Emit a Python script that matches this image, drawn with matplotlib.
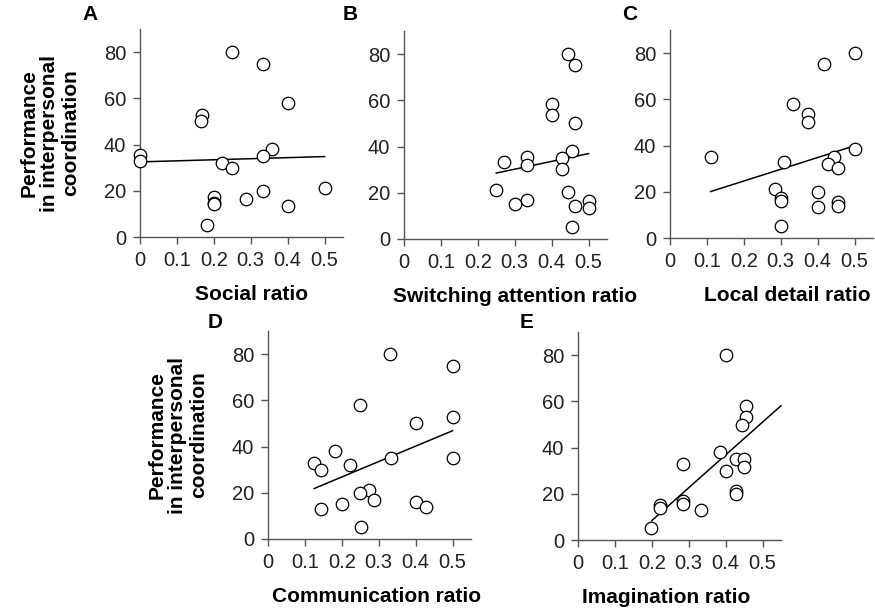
import matplotlib
matplotlib.use('Agg')
import matplotlib.pyplot as plt

plt.rcParams['font.family'] = ['Liberation Sans', 'DejaVu Sans']

# performance in interpersonal coordination vs AQ sub-scale ratios
social_x = [0, 0, 0.25, 0.333, 0.40, 0.167, 0.165, 0.357, 0.333, 0.222, 0.25,
            0.5, 0.333, 0.2, 0.2, 0.2, 0.286, 0.4, 0.182]
social_y = [35.5, 33, 80, 75, 58, 53, 50, 38, 35, 32, 30,
            21, 20, 17.4, 14.7, 14.2, 16.4, 13.2, 5.2]

switch_x = [0.444, 0.462, 0.40, 0.40, 0.462, 0.455, 0.428, 0.333, 0.333, 0.272,
            0.428, 0.25, 0.444, 0.333, 0.30, 0.462, 0.5, 0.5, 0.455]
switch_y = [80, 75.2, 58.4, 53.5, 50, 38.2, 35.2, 35.5, 32.2, 33.2,
            30.5, 21.3, 20.2, 17, 15.3, 14.2, 16.5, 13.3, 5.2]

local_x = [0.5, 0.417, 0.332, 0.375, 0.375, 0.5, 0.11, 0.444, 0.308, 0.427,
           0.454, 0.285, 0.40, 0.30, 0.30, 0.454, 0.454, 0.40, 0.30]
local_y = [80, 75.3, 58, 53.5, 50.2, 38.3, 35.1, 35.1, 33.1, 32.1,
           30.4, 21.2, 20.1, 17.2, 16.2, 15.5, 14, 13.2, 5]

comm_x = [0.33, 0.5, 0.249, 0.5, 0.40, 0.181, 0.5, 0.333, 0.124, 0.144,
          0.221, 0.274, 0.249, 0.286, 0.20, 0.40, 0.429, 0.144, 0.251]
comm_y = [80, 74.8, 57.9, 52.7, 50, 38, 35, 35, 32.7, 29.9,
          32.1, 21, 20, 16.9, 15.2, 16.2, 14, 13, 5.2]

imag_x = [0.40, 0.456, 0.454, 0.445, 0.384, 0.428, 0.449, 0.449, 0.40, 0.285,
          0.428, 0.428, 0.221, 0.221, 0.285, 0.285, 0.332, 0.198]
imag_y = [80, 58, 53.1, 49.9, 37.9, 35.1, 35.1, 31.7, 30, 32.8,
          21, 19.9, 15.2, 14, 16.7, 15.5, 12.8, 5]

# regression lines
fit_slope = [4.6, 33.7, 50.8, 66.7, 142]
fit_intercept = [32.5, 20.1, 14.5, 13.5, -20.0]
fit_from = [0, 0.25, 0.11, 0.125, 0.2]
fit_to = [0.5, 0.5, 0.5, 0.5, 0.55]

letters = ['A', 'B', 'C', 'D', 'E']
xlabels = ['Social ratio', 'Switching attention ratio', 'Local detail ratio',
           'Communication ratio', 'Imagination ratio']
xs = [social_x, switch_x, local_x, comm_x, imag_x]
ys = [social_y, switch_y, local_y, comm_y, imag_y]
ylab = 'Performance\nin interpersonal\ncoordination'

W, H = 875, 610
# axes position in pixels: left, y of the zero line
boxes = [(140, 237), (404, 239), (670, 238), (268, 539), (578, 540)]
letter_pos = [(90, 15), (350, 15), (630, 15), (215, 322), (527, 322)]
xlabel_x = [0.552, 0.547, 0.58, 0.537, 0.433]
aw, ah = 203, 208

fig = plt.figure(figsize=(W / 100, H / 100), dpi=100)

for i in range(5):
    left, y0 = boxes[i]
    ax = fig.add_axes([left / W, 1 - y0 / H, aw / W, ah / H])
    ax.plot(xs[i], ys[i], 'o', ms=9, mfc='white', mec='black', mew=0.9,
            clip_on=False, zorder=3)
    lx = [fit_from[i], fit_to[i]]
    ly = [fit_intercept[i] + fit_slope[i] * v for v in lx]
    ax.plot(lx, ly, color='black', lw=1.1, zorder=2, clip_on=False)

    ax.set_xlim(0, 0.55)
    ax.set_ylim(0, 90)
    ax.set_xticks([0, 0.1, 0.2, 0.3, 0.4, 0.5])
    ax.set_xticklabels(['0', '0.1', '0.2', '0.3', '0.4', '0.5'])
    ax.set_yticks([0, 20, 40, 60, 80])
    for s in ['top', 'right']:
        ax.spines[s].set_visible(False)
    for s in ['left', 'bottom']:
        ax.spines[s].set_color('#555555')
        ax.spines[s].set_linewidth(1.0)
    ax.tick_params(length=5, width=1.0, color='#555555', labelsize=14.5,
                   labelcolor='#222222', pad=5)
    ax.set_xlabel(xlabels[i], fontsize=15, fontweight='bold', labelpad=11)
    ax.xaxis.label.set_x(xlabel_x[i])
    if i in (0, 3):
        ax.set_ylabel(ylab, fontsize=15, fontweight='bold', linespacing=1.12)
        ax.yaxis.set_label_coords(-0.296, 0.5)
    fig.text(letter_pos[i][0] / W, 1 - letter_pos[i][1] / H, letters[i],
             fontsize=15, fontweight='bold', ha='center', va='center')

fig.savefig('out.png', dpi=100)
